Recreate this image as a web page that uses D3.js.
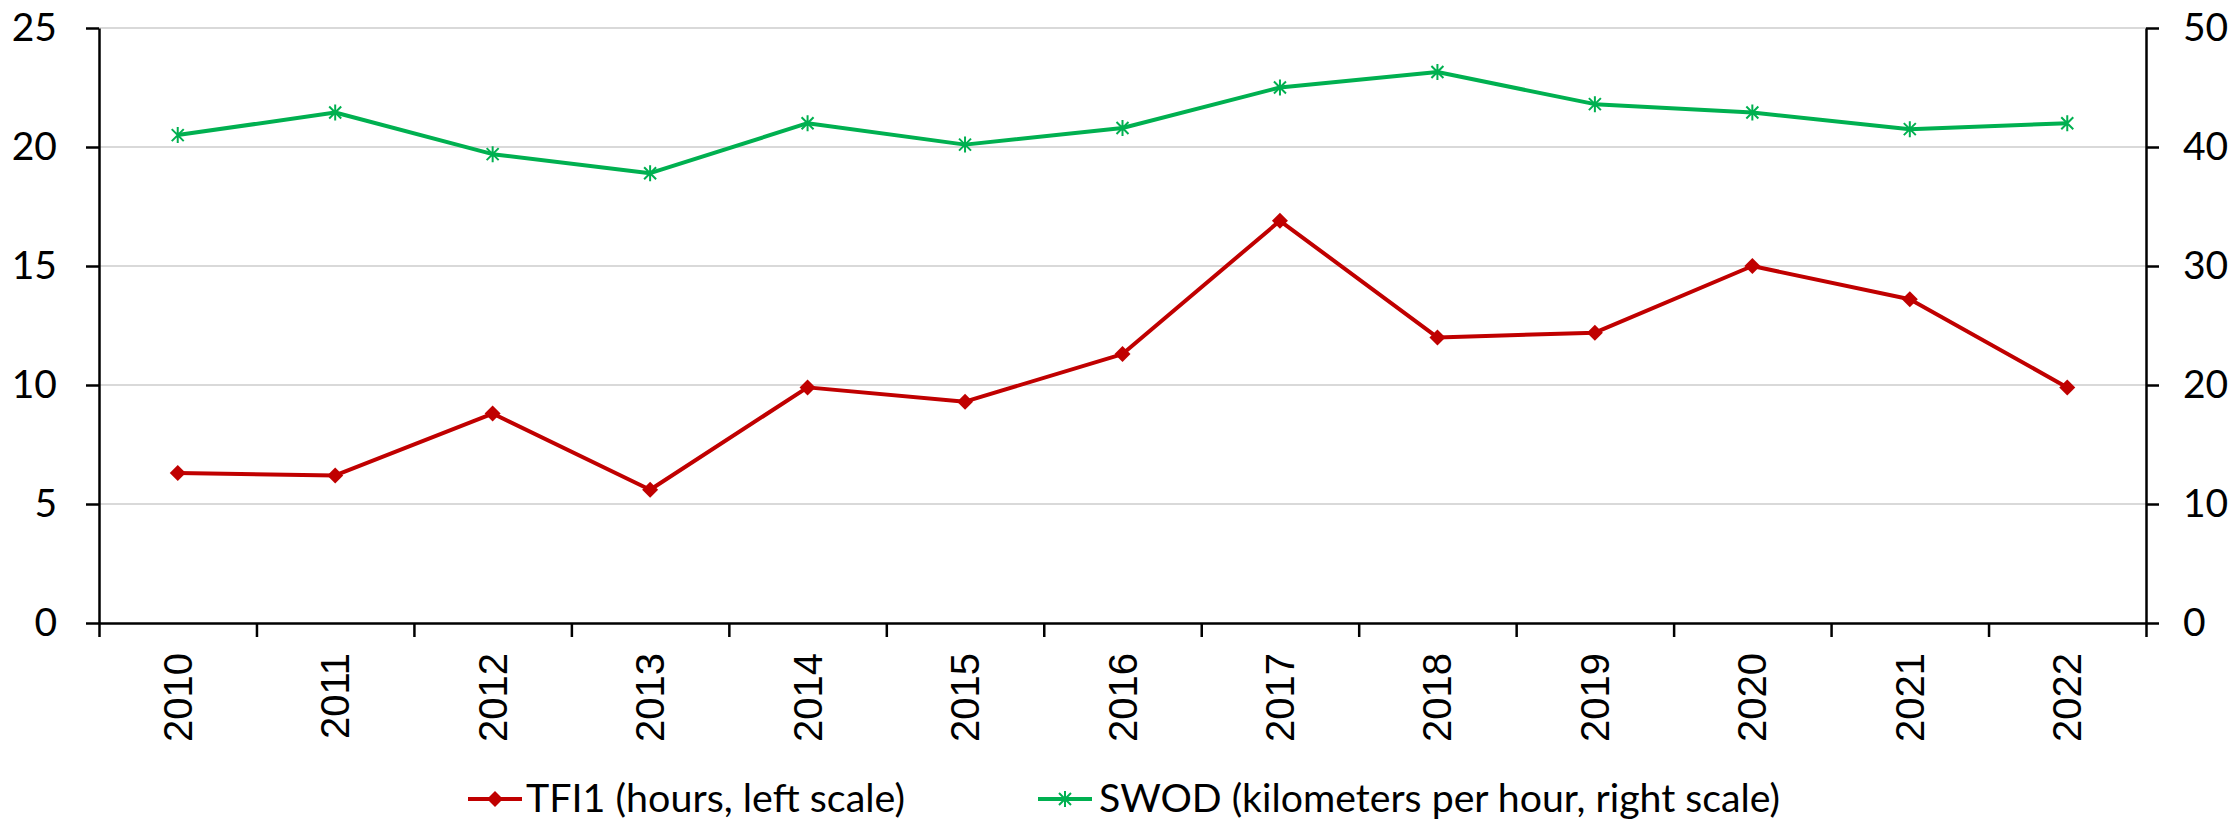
<!DOCTYPE html>
<html>
<head>
<meta charset="utf-8">
<script src="https://cdn.jsdelivr.net/npm/d3@7"></script>
<style>
  body { margin: 0; background: #fff; }
  svg { display: block; }
</style>
</head>
<body>
<div id="chart"></div>
<script>
// data
var years = ["2010","2011","2012","2013","2014","2015","2016","2017","2018","2019","2020","2021","2022"];
var tfi1  = [6.3, 6.2, 8.8, 5.6, 9.9, 9.3, 11.3, 16.9, 12.0, 12.2, 15.0, 13.6, 9.9];
var swod  = [41.0, 42.9, 39.4, 37.8, 42.0, 40.2, 41.6, 45.0, 46.3, 43.6, 42.9, 41.5, 42.0];
var leftTicks  = [0, 5, 10, 15, 20, 25];
var rightTicks = [0, 10, 20, 30, 40, 50];
var legendLabels = ["TFI1 (hours, left scale)", "SWOD (kilometers per hour, right scale)"];

var W = 2234, H = 820;
var plotLeft = 99, plotRight = 2146, plotTop = 28, plotBottom = 623;
var red = "#c00000", green = "#00b050";
var tickFont = "Lato, 'Open Sans', sans-serif";

var svg = d3.select("#chart").append("svg")
  .attr("width", W)
  .attr("height", H);

var x = d3.scaleBand().domain(years).range([plotLeft, plotRight]).padding(0);
var xEdge = d3.scaleLinear().domain([0, years.length]).range([plotLeft, plotRight]);
var yl = d3.scaleLinear().domain([0, 25]).range([plotBottom, plotTop]);
var yr = d3.scaleLinear().domain([0, 50]).range([plotBottom, plotTop]);

// gridlines
svg.append("g").selectAll("line")
  .data(leftTicks.slice(1))
  .enter().append("line")
  .attr("x1", plotLeft).attr("x2", plotRight)
  .attr("y1", function(d) { return yl(d); })
  .attr("y2", function(d) { return yl(d); })
  .attr("stroke", "#d9d9d9")
  .attr("stroke-width", 2);

// x axis: ticks between categories
var gx = svg.append("g")
  .attr("transform", "translate(0," + plotBottom + ")")
  .call(d3.axisBottom(xEdge).tickValues(d3.range(years.length + 1)).tickSize(14).tickSizeOuter(0).tickFormat(""));
gx.selectAll("path, line").attr("stroke", "#000").attr("stroke-width", 2.5);

// year labels, rotated
svg.append("g").selectAll("text")
  .data(years)
  .enter().append("text")
  .attr("transform", function(d) { return "translate(" + (x(d) + x.bandwidth() / 2) + ",653) rotate(-90)"; })
  .attr("text-anchor", "end")
  .attr("dominant-baseline", "central")
  .style("font-family", "'Liberation Sans', Arial, sans-serif")
  .style("font-size", "40px")
  .attr("fill", "#000")
  .text(function(d) { return d; });

// left axis
var gl = svg.append("g")
  .attr("transform", "translate(" + plotLeft + ",0)")
  .call(d3.axisLeft(yl).tickValues(leftTicks).tickSize(13).tickPadding(29).tickSizeOuter(0));
gl.selectAll("path, line").attr("stroke", "#000").attr("stroke-width", 2.5);
gl.selectAll("text").style("font-family", tickFont).style("font-size", "39px").attr("fill", "#000");

// right axis
var gr = svg.append("g")
  .attr("transform", "translate(" + plotRight + ",0)")
  .call(d3.axisRight(yr).tickValues(rightTicks).tickSize(13).tickPadding(24).tickSizeOuter(0));
gr.selectAll("path, line").attr("stroke", "#000").attr("stroke-width", 2.5);
gr.selectAll("text").style("font-family", tickFont).style("font-size", "39px").attr("fill", "#000");

function cx(i) { return x(years[i]) + x.bandwidth() / 2; }

var diamond = "M0,-8L8,0L0,8L-8,0Z";
var star = "M0,-8V8M-6,-6L6,6M-6,6L6,-6";

// TFI1 line
svg.append("path")
  .datum(tfi1)
  .attr("fill", "none")
  .attr("stroke", red)
  .attr("stroke-width", 4)
  .attr("stroke-linejoin", "round")
  .attr("d", d3.line().x(function(d, i) { return cx(i); }).y(function(d) { return yl(d); }));

svg.append("g").selectAll("path")
  .data(tfi1)
  .enter().append("path")
  .attr("d", diamond)
  .attr("transform", function(d, i) { return "translate(" + cx(i) + "," + yl(d) + ")"; })
  .attr("fill", red);

// SWOD line
svg.append("path")
  .datum(swod)
  .attr("fill", "none")
  .attr("stroke", green)
  .attr("stroke-width", 4)
  .attr("stroke-linejoin", "round")
  .attr("d", d3.line().x(function(d, i) { return cx(i); }).y(function(d) { return yr(d); }));

svg.append("g").selectAll("path")
  .data(swod)
  .enter().append("path")
  .attr("d", star)
  .attr("transform", function(d, i) { return "translate(" + cx(i) + "," + yr(d) + ")"; })
  .attr("fill", "none")
  .attr("stroke", green)
  .attr("stroke-width", 2);

// Handmade legend
var legY = 799;
var leg = [
  { x: 468, color: red, mark: diamond, fill: red, stroke: "none", tx: 526, tw: 379 },
  { x: 1038, color: green, mark: star, fill: "none", stroke: green, tx: 1099, tw: 681 }
];
leg.forEach(function(l, i) {
  svg.append("line")
    .attr("x1", l.x).attr("x2", l.x + 54)
    .attr("y1", legY).attr("y2", legY)
    .attr("stroke", l.color).attr("stroke-width", 4);
  svg.append("path")
    .attr("d", l.mark)
    .attr("transform", "translate(" + (l.x + 27) + "," + legY + ")")
    .attr("fill", l.fill).attr("stroke", l.stroke).attr("stroke-width", 2);
  svg.append("text")
    .attr("x", l.tx).attr("y", 812)
    .attr("textLength", l.tw)
    .attr("lengthAdjust", "spacingAndGlyphs")
    .style("font-family", tickFont)
    .style("font-size", "38px")
    .attr("fill", "#000")
    .text(legendLabels[i]);
});
</script>
</body>
</html>
